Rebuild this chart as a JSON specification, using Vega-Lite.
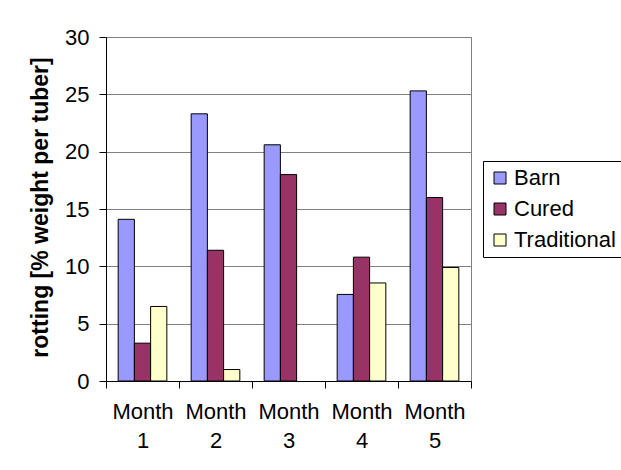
{
  "$schema": "https://vega.github.io/schema/vega-lite/v6.json",
  "autosize": {"type": "none"},
  "padding": {"left": 106, "top": 37, "right": 150, "bottom": 89},
  "width": 365,
  "height": 344,
  "background": "white",
  "data": {
    "values": [
      {"month": "Month 1", "store": "Barn", "rotting": 14.1},
      {"month": "Month 1", "store": "Cured", "rotting": 3.3},
      {"month": "Month 1", "store": "Traditional", "rotting": 6.5},
      {"month": "Month 2", "store": "Barn", "rotting": 23.3},
      {"month": "Month 2", "store": "Cured", "rotting": 11.4},
      {"month": "Month 2", "store": "Traditional", "rotting": 1.0},
      {"month": "Month 3", "store": "Barn", "rotting": 20.6},
      {"month": "Month 3", "store": "Cured", "rotting": 18.0},
      {"month": "Month 4", "store": "Barn", "rotting": 7.55},
      {"month": "Month 4", "store": "Cured", "rotting": 10.8},
      {"month": "Month 4", "store": "Traditional", "rotting": 8.55},
      {"month": "Month 5", "store": "Barn", "rotting": 25.3},
      {"month": "Month 5", "store": "Cured", "rotting": 16.0},
      {"month": "Month 5", "store": "Traditional", "rotting": 9.9}
    ]
  },
  "mark": {"type": "bar", "stroke": "black", "strokeWidth": 1},
  "encoding": {
    "x": {
      "field": "month",
      "type": "nominal",
      "scale": {"paddingInner": 0, "paddingOuter": 0},
      "axis": {
        "title": null,
        "labelAngle": 0,
        "labelExpr": "split(datum.label, ' ')",
        "labelFontSize": 22,
        "labelLineHeight": 29,
        "labelColor": "black",
        "labelPadding": 13,
        "tickBand": "extent",
        "tickSize": 7,
        "tickColor": "black",
        "domainColor": "black",
        "grid": false
      }
    },
    "xOffset": {
      "field": "store",
      "type": "nominal",
      "sort": ["Barn", "Cured", "Traditional"],
      "scale": {"paddingInner": 0, "paddingOuter": 0.75}
    },
    "y": {
      "field": "rotting",
      "type": "quantitative",
      "scale": {"domain": [0, 30], "nice": false},
      "axis": {
        "title": "rotting [% weight per tuber]",
        "titleFontSize": 23,
        "titleFontWeight": "bold",
        "titleColor": "black",
        "titleAngle": -90,
        "titleX": -66,
        "titleY": 170,
        "titleAlign": "center",
        "titleBaseline": "middle",
        "values": [0, 5, 10, 15, 20, 25, 30],
        "labelFontSize": 22,
        "labelColor": "black",
        "labelPadding": 10,
        "tickSize": 7,
        "tickColor": "black",
        "domainColor": "black",
        "gridColor": "#808080",
        "gridWidth": 1
      }
    },
    "color": {
      "field": "store",
      "type": "nominal",
      "sort": ["Barn", "Cured", "Traditional"],
      "scale": {
        "domain": ["Barn", "Cured", "Traditional"],
        "range": ["#9999FF", "#993366", "#FFFFCC"]
      },
      "legend": {
        "title": null,
        "orient": "none",
        "legendX": 377,
        "legendY": 124,
        "strokeColor": "black",
        "fillColor": "white",
        "padding": 6,
        "labelFontSize": 22,
        "labelColor": "black",
        "labelOffset": 3,
        "rowPadding": 9,
        "symbolType": "square",
        "symbolSize": 144,
        "symbolStrokeColor": "black",
        "symbolStrokeWidth": 1,
        "symbolOpacity": 1
      }
    }
  },
  "config": {
    "font": "Liberation Sans",
    "view": {"stroke": "#808080", "strokeWidth": 1},
    "axis": {"labelFont": "Liberation Sans", "titleFont": "Liberation Sans"},
    "legend": {"labelFont": "Liberation Sans"}
  }
}
